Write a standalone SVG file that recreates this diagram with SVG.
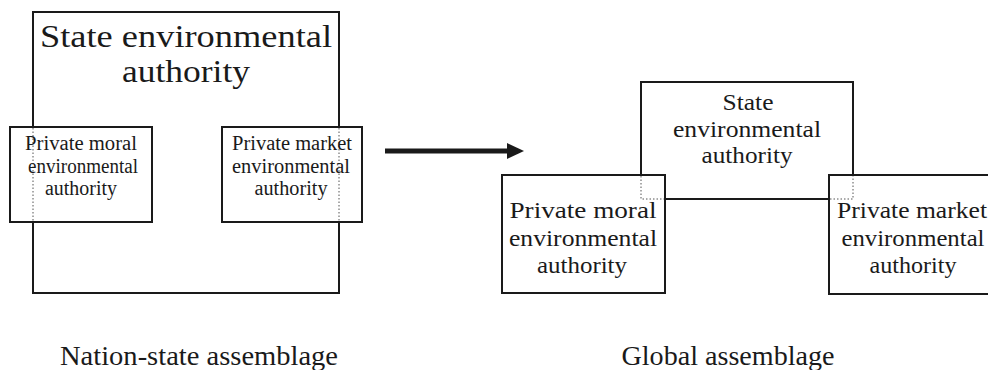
<svg xmlns="http://www.w3.org/2000/svg" width="988" height="370" viewBox="0 0 988 370">
<style>
.box{fill:#fff;stroke:#1a1a1a;stroke-width:2}
.frame{fill:none;stroke:#1a1a1a;stroke-width:2}
.dot{fill:none;stroke:#555;stroke-width:1;stroke-dasharray:1.5 2}
text{font-family:"Liberation Serif","Times New Roman",Times,serif;fill:#1a1a1a;text-anchor:middle}
.big{font-size:32px}
.sm{font-size:20px}
.md{font-size:24px}
.lab{font-size:27px}
</style>
<rect width="988" height="370" fill="#fff"/>
<g id="nation-state-assemblage">
  <g id="state-authority-1">
    <rect class="frame" x="33" y="12" width="306" height="281"/>
    <text class="big" x="186" y="47" textLength="292" lengthAdjust="spacingAndGlyphs">State environmental</text>
    <text class="big" x="186" y="82" textLength="128" lengthAdjust="spacingAndGlyphs">authority</text>
  </g>
  <g id="private-moral-1">
    <rect class="box" x="10" y="127" width="142" height="95"/>
    <line class="dot" x1="33" y1="128" x2="33" y2="221"/>
    <text class="sm" x="81" y="150" textLength="112" lengthAdjust="spacingAndGlyphs">Private moral</text>
    <text class="sm" x="83" y="173" textLength="110" lengthAdjust="spacingAndGlyphs">environmental</text>
    <text class="sm" x="81" y="195" textLength="72" lengthAdjust="spacingAndGlyphs">authority</text>
  </g>
  <g id="private-market-1">
    <rect class="box" x="222" y="127" width="140" height="95"/>
    <line class="dot" x1="339" y1="128" x2="339" y2="221"/>
    <text class="sm" x="292" y="150" textLength="120" lengthAdjust="spacingAndGlyphs">Private market</text>
    <text class="sm" x="291" y="173" textLength="118" lengthAdjust="spacingAndGlyphs">environmental</text>
    <text class="sm" x="291" y="195" textLength="73" lengthAdjust="spacingAndGlyphs">authority</text>
  </g>
  <text id="label-nation" class="lab" x="199" y="365" textLength="278" lengthAdjust="spacingAndGlyphs">Nation-state assemblage</text>
</g>
<g id="connectors">
  <line x1="385" y1="151" x2="510" y2="151" stroke="#1a1a1a" stroke-width="5"/>
  <polygon points="507,143 524,151 507,159" fill="#1a1a1a"/>
</g>
<g id="global-assemblage">
  <g id="state-authority-2">
    <rect class="frame" x="641" y="82" width="212" height="117"/>
    <text class="md" x="748" y="110" textLength="51" lengthAdjust="spacingAndGlyphs">State</text>
    <text class="md" x="747" y="137" textLength="148" lengthAdjust="spacingAndGlyphs">environmental</text>
    <text class="md" x="747" y="163" textLength="91" lengthAdjust="spacingAndGlyphs">authority</text>
  </g>
  <g id="private-moral-2">
    <rect class="box" x="502" y="175" width="163" height="118"/>
    <polyline class="dot" points="641,176 641,199 664,199"/>
    <text class="md" x="583" y="218" textLength="147" lengthAdjust="spacingAndGlyphs">Private moral</text>
    <text class="md" x="583" y="246" textLength="148" lengthAdjust="spacingAndGlyphs">environmental</text>
    <text class="md" x="582" y="273" textLength="90" lengthAdjust="spacingAndGlyphs">authority</text>
  </g>
  <g id="private-market-2">
    <rect class="box" x="829" y="175" width="170" height="119"/>
    <polyline class="dot" points="830,199 853,199 853,176"/>
    <text class="md" x="912" y="218" textLength="150" lengthAdjust="spacingAndGlyphs">Private market</text>
    <text class="md" x="913" y="246" textLength="143" lengthAdjust="spacingAndGlyphs">environmental</text>
    <text class="md" x="913" y="273" textLength="87" lengthAdjust="spacingAndGlyphs">authority</text>
  </g>
  <text id="label-global" class="lab" x="728" y="365" textLength="213" lengthAdjust="spacingAndGlyphs">Global assemblage</text>
</g>
</svg>
